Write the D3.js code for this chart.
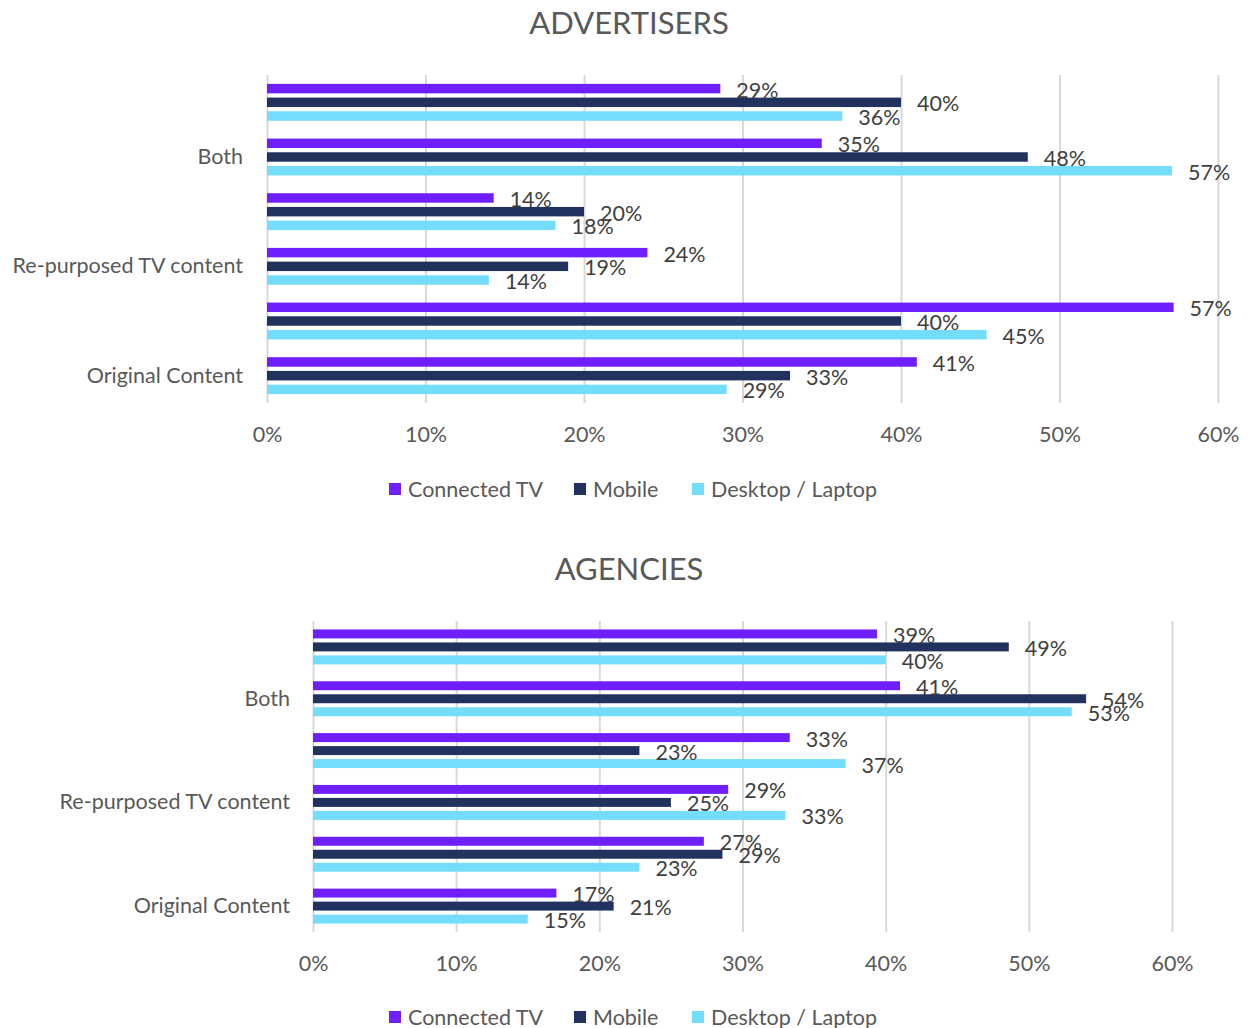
<!DOCTYPE html>
<html lang="en">
<head>
    <meta charset="UTF-8">
    <script src="https://d3js.org/d3.v7.min.js"></script>
    <title>Advertisers and agencies</title>
    <style>
        body {
            margin: 0;
            background: #fff;
        }
        svg {
            display: block;
            font-family: Lato, "Open Sans", sans-serif;
        }
    </style>
</head>
<body>
    <svg width="1256" height="1028"></svg>
    <script>
        // series and colours
        const series = ['Connected TV', 'Mobile', 'Desktop / Laptop'];
        const colors = ['#6f1ffb', '#22325f', '#74ddfb'];

        // Excel only printed every other category label
        const categoryLabels = ['', 'Both', '', 'Re-purposed TV content', '', 'Original Content'];
        const xTicks = [0, 10, 20, 30, 40, 50, 60];

        // ADVERTISERS, groups top to bottom
        const advConnectedTV = [28.6, 35.0, 14.3, 24.0, 57.2, 41.0];
        const advMobile = [40.0, 48.0, 20.0, 19.0, 40.0, 33.0];
        const advDesktop = [36.3, 57.1, 18.2, 14.0, 45.4, 29.0];

        // AGENCIES, groups top to bottom
        const agConnectedTV = [39.4, 41.0, 33.3, 29.0, 27.3, 17.0];
        const agMobile = [48.6, 54.0, 22.8, 25.0, 28.6, 21.0];
        const agDesktop = [40.0, 53.0, 37.2, 33.0, 22.8, 15.0];

        const fontSize = '21.5px';
        const svg = d3.select('svg');

        function drawPanel(cfg) {
            const values = [cfg.ctv, cfg.mobile, cfg.desktop];
            const rows = categoryLabels.map((c, i) => ({
                idx: i,
                vals: series.map((s, j) => ({ s: j, v: values[j][i] }))
            }));

            const x = d3.scaleLinear()
                .domain([0, 60])
                .range([cfg.left, cfg.right]);

            const y0 = d3.scaleBand()
                .domain(d3.range(categoryLabels.length))
                .range([cfg.top, cfg.bottom]);

            const bw = y0.bandwidth();
            const inner = bw * 0.752;
            const y1 = d3.scaleBand()
                .domain(d3.range(series.length))
                .range([(bw - inner) / 2, (bw + inner) / 2])
                .paddingInner(0.31)
                .paddingOuter(0.155);

            // title
            svg.append('text')
                .attr('x', 629)
                .attr('y', cfg.titleY)
                .attr('text-anchor', 'middle')
                .attr('dominant-baseline', 'central')
                .attr('fill', '#595959')
                .style('font-size', '31px')
                .text(cfg.title);

            // gridlines + percent ticks
            const xAxis = d3.axisBottom(x)
                .tickValues(xTicks)
                .tickFormat(d => d + '%')
                .tickSize(-(cfg.bottom - cfg.top))
                .tickSizeOuter(0)
                .tickPadding(24);

            const gx = svg.append('g')
                .attr('transform', `translate(0, ${cfg.bottom})`)
                .call(xAxis);
            gx.select('.domain').remove();
            gx.selectAll('line').attr('stroke', '#d9d9d9').attr('stroke-width', 2);
            gx.selectAll('text')
                .attr('fill', '#595959')
                .style('font-size', fontSize)
                .style('font-family', 'Lato, sans-serif');

            // category labels
            const yAxis = d3.axisLeft(y0)
                .tickFormat(i => categoryLabels[i])
                .tickSize(0)
                .tickPadding(cfg.left - cfg.labelRight);

            const gy = svg.append('g')
                .attr('transform', `translate(${cfg.left}, 0)`)
                .call(yAxis);
            gy.select('.domain').remove();
            gy.selectAll('text')
                .attr('fill', '#595959')
                .style('font-size', fontSize)
                .style('font-family', 'Lato, sans-serif');

            // bars
            const groups = svg.append('g')
                .selectAll('g')
                .data(rows)
                .enter().append('g')
                .attr('transform', d => `translate(0, ${y0(d.idx)})`);

            groups.selectAll('rect')
                .data(d => d.vals)
                .enter().append('rect')
                .attr('x', x(0))
                .attr('y', d => y1(d.s))
                .attr('width', d => x(d.v) - x(0))
                .attr('height', y1.bandwidth())
                .attr('fill', d => colors[d.s]);

            groups.selectAll('text')
                .data(d => d.vals)
                .enter().append('text')
                .attr('x', d => x(d.v) + 16)
                .attr('y', d => y1(d.s) + y1.bandwidth() / 2 + 1)
                .attr('dominant-baseline', 'central')
                .attr('fill', '#404040')
                .style('font-size', fontSize)
                .text(d => Math.round(d.v) + '%');

            // legend
            const legendX = [389, 574, 692];
            const leg = svg.append('g')
                .selectAll('g')
                .data(series)
                .enter().append('g')
                .attr('transform', (d, i) => `translate(${legendX[i]}, ${cfg.legendY})`);

            leg.append('rect')
                .attr('x', 0)
                .attr('y', -6)
                .attr('width', 12)
                .attr('height', 12)
                .attr('fill', (d, i) => colors[i]);

            leg.append('text')
                .attr('x', 19)
                .attr('y', 0)
                .attr('dominant-baseline', 'central')
                .attr('fill', '#595959')
                .style('font-size', fontSize)
                .text(d => d);
        }

        drawPanel({
            title: 'ADVERTISERS',
            titleY: 22,
            left: 267, right: 1218, top: 75, bottom: 403,
            labelRight: 243,
            legendY: 489,
            ctv: advConnectedTV, mobile: advMobile, desktop: advDesktop
        });

        drawPanel({
            title: 'AGENCIES',
            titleY: 568,
            left: 313, right: 1172, top: 621, bottom: 932,
            labelRight: 290,
            legendY: 1017,
            ctv: agConnectedTV, mobile: agMobile, desktop: agDesktop
        });
    </script>
</body>
</html>
